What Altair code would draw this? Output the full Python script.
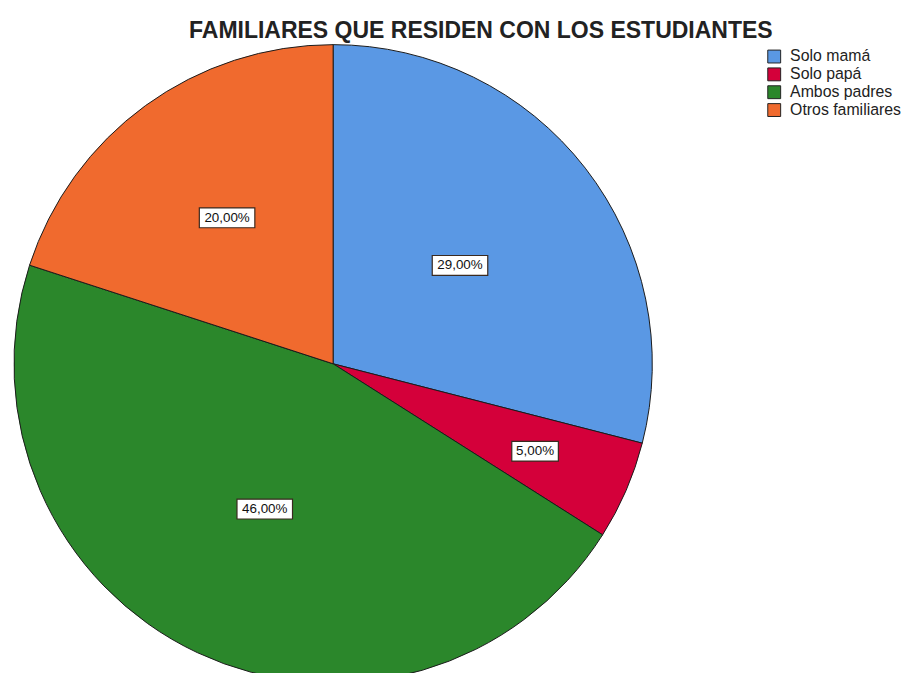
import altair as alt
import pandas as pd

categorias = ["Solo mamá", "Solo papá", "Ambos padres", "Otros familiares"]
porcentajes = [29.0, 5.0, 46.0, 20.0]
etiquetas = ["29,00%", "5,00%", "46,00%", "20,00%"]
colores = ["#5A98E4", "#D4003A", "#2B872B", "#F06A2E"]
titulo = "FAMILIARES QUE RESIDEN CON LOS ESTUDIANTES"

df = pd.DataFrame({
    "categoria": categorias,
    "pct": porcentajes,
    "etiqueta": etiquetas,
    "orden": list(range(len(categorias))),
})

CX, CY, R = 328, 356, 322

base = alt.Chart(df)

pie = base.mark_arc(stroke="#1a1a1a", strokeWidth=1, clip=True, outerRadius=R).encode(
    theta=alt.Theta("pct:Q", stack=True),
    order=alt.Order("orden:Q"),
    x=alt.value(CX),
    y=alt.value(CY),
    color=alt.Color(
        "categoria:N",
        scale=alt.Scale(domain=categorias, range=colores),
        sort=categorias,
        legend=alt.Legend(
            title=None,
            orient="none",
            legendX=765,
            legendY=38,
            symbolType="square",
            symbolSize=169,
            symbolStrokeColor="#222",
            symbolStrokeWidth=1,
            symbolOpacity=1,
            labelFont="Liberation Sans",
            labelFontSize=16,
            labelColor="#222",
            labelOffset=8,
            rowPadding=0,
            padding=0,
        ),
    ),
)

pos = base.transform_window(
    cum="sum(pct)", sort=[alt.SortField("orden")], frame=[None, 0]
).transform_calculate(
    mid="(datum.cum - datum.pct/2) / 100 * 2 * PI",
    lr="datum.pct < 10 ? 222 : (datum.pct < 25 ? 182 : 162)",
    cx=f"{CX} + datum.lr * sin(datum.mid)",
    cy=f"{CY} - datum.lr * cos(datum.mid)",
    w="length(datum.etiqueta) * 9 + 2",
    x1="datum.cx - datum.w/2",
    x2="datum.cx + datum.w/2",
    y1="datum.cy - 10",
    y2="datum.cy + 10",
)

boxes = pos.mark_rect(fill="white", stroke="#3a2a20", strokeWidth=1.2).encode(
    x=alt.X("x1:Q", scale=None),
    x2="x2:Q",
    y=alt.Y("y1:Q", scale=None),
    y2="y2:Q",
)

texts = pos.mark_text(font="Liberation Sans", fontSize=13.5, color="#111", baseline="middle").encode(
    x=alt.X("cx:Q", scale=None),
    y=alt.Y("cy:Q", scale=None),
    text="etiqueta:N",
)

title = alt.Chart(pd.DataFrame({"t": [titulo]})).mark_text(
    font="Liberation Sans", fontSize=23.2, fontWeight="bold", color="#222", baseline="middle"
).encode(x=alt.value(477), y=alt.value(20), text="t:N")

chart = alt.layer(pie, boxes, texts, title).properties(
    width=911, height=668, autosize=alt.AutoSizeParams(type="none"), padding=0,
    background="white",
).configure_view(stroke=None)

chart.save("out.html", embed_options={"renderer": "svg", "actions": False})
